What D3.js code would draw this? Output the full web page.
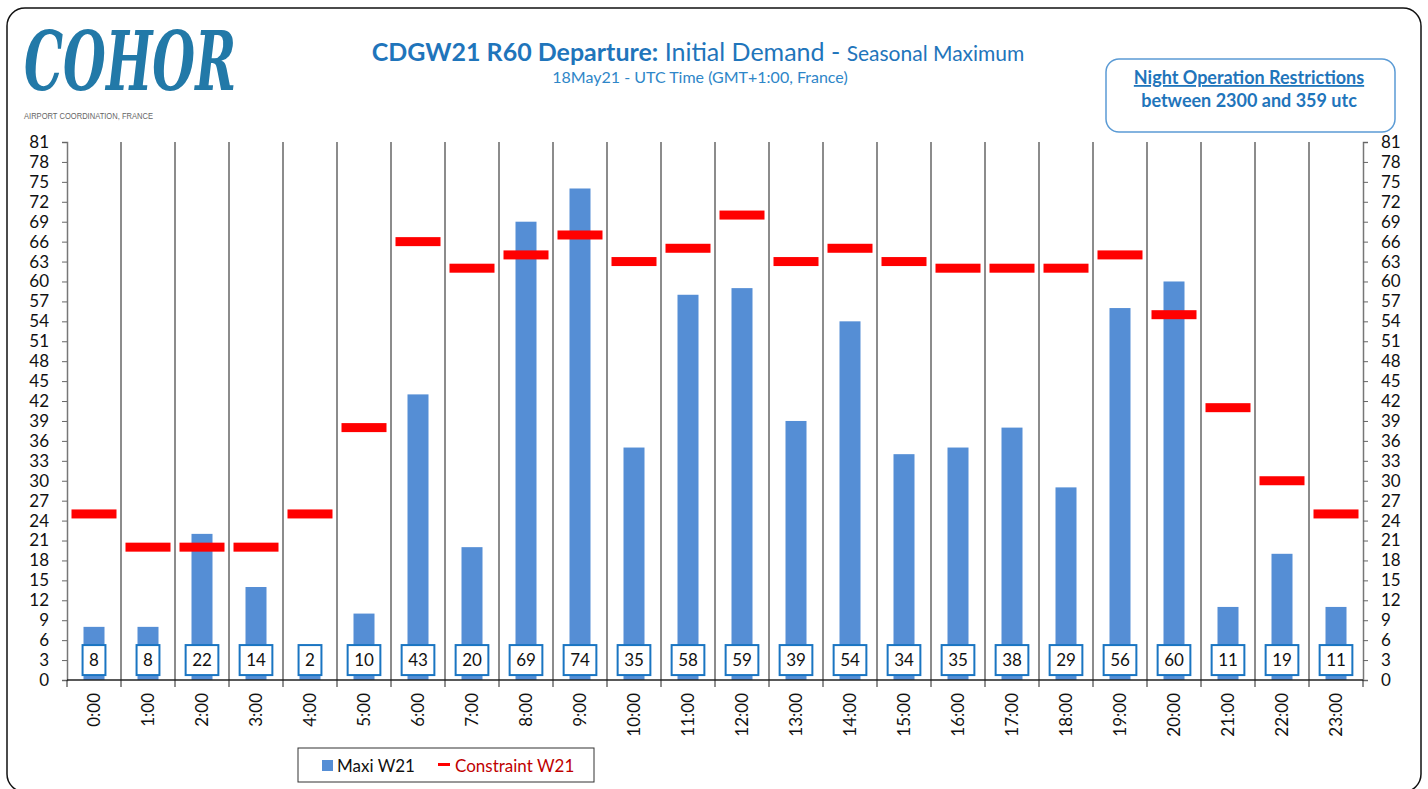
<!DOCTYPE html>
<html>
<head>
<meta charset="utf-8">
<script src="https://cdn.jsdelivr.net/npm/d3@7"></script>
<style>
  body { margin: 0; background: #fff; }
  svg { display: block; font-family: Lato, 'Open Sans', sans-serif; }
</style>
</head>
<body>
<div id="chart"></div>
<script>
// hourly slots, demand and constraint
const hours = ['0:00', '1:00', '2:00', '3:00', '4:00', '5:00', '6:00', '7:00', '8:00', '9:00', '10:00', '11:00',
  '12:00', '13:00', '14:00', '15:00', '16:00', '17:00', '18:00', '19:00', '20:00', '21:00', '22:00', '23:00']
const maxiW21 = [8, 8, 22, 14, 2, 10, 43, 20, 69, 74, 35, 58, 59, 39, 54, 34, 35, 38, 29, 56, 60, 11, 19, 11]
const constraintW21 = [25, 20, 20, 20, 25, 38, 66, 62, 64, 67, 63, 65, 70, 63, 65, 63, 62, 62, 62, 64, 55, 41, 30, 25]
const yTicks = d3.range(0, 82, 3)

const width = 1428
const height = 789
const blue = '#1f75bb'

const svg = d3.select('#chart').append('svg')
  .attr('width', width)
  .attr('height', height)

// outer frame
svg.append('rect')
  .attr('x', 7).attr('y', 8)
  .attr('width', 1414).attr('height', 784)
  .attr('rx', 18)
  .attr('fill', 'none')
  .attr('stroke', '#111')
  .attr('stroke-width', 1.5)

// logo
svg.append('text')
  .attr('x', 24).attr('y', 90)
  .attr('font-family', 'DejaVu Serif')
  .attr('font-style', 'italic')
  .attr('font-weight', 'bold')
  .attr('font-size', 82)
  .attr('textLength', 212)
  .attr('lengthAdjust', 'spacingAndGlyphs')
  .attr('fill', '#2279a8')
  .text('COHOR')
svg.append('text')
  .attr('x', 24).attr('y', 119)
  .attr('font-family', 'Liberation Sans Narrow, Liberation Sans')
  .attr('font-size', 9)
  .attr('textLength', 129)
  .attr('lengthAdjust', 'spacingAndGlyphs')
  .attr('fill', '#666')
  .text('AIRPORT COORDINATION, FRANCE')

// title
let title = svg.append('text')
  .attr('x', 698).attr('y', 61)
  .attr('text-anchor', 'middle')
  .attr('fill', blue)
  .attr('font-size', 25)
title.append('tspan').attr('font-weight', 'bold').text('CDGW21 R60 Departure:')
title.append('tspan').text(' Initial Demand - ')
title.append('tspan').attr('font-size', 21).text(' Seasonal Maximum')

svg.append('text')
  .attr('x', 700).attr('y', 83)
  .attr('text-anchor', 'middle')
  .attr('fill', '#2e86c8')
  .attr('font-size', 16)
  .text('18May21 - UTC Time (GMT+1:00, France)')

// night restrictions box
svg.append('rect')
  .attr('x', 1106).attr('y', 59)
  .attr('width', 289).attr('height', 73)
  .attr('rx', 13)
  .attr('fill', '#fff')
  .attr('stroke', '#5b9bd5')
  .attr('stroke-width', 1.5)
svg.append('text')
  .attr('x', 1249).attr('y', 84)
  .attr('text-anchor', 'middle')
  .attr('fill', blue)
  .attr('font-size', 18)
  .attr('font-weight', 'bold')
  .attr('text-decoration', 'underline')
  .text('Night Operation Restrictions')
svg.append('text')
  .attr('x', 1249).attr('y', 107)
  .attr('text-anchor', 'middle')
  .attr('fill', blue)
  .attr('font-size', 18)
  .attr('font-weight', 'bold')
  .text('between 2300 and 359 utc')

// scales
const x = d3.scaleBand().domain(hours).range([67, 1363]).padding(0)
const y = d3.scaleLinear().domain([0, 81]).range([680, 142])
const bw = x.bandwidth()

// vertical separators
svg.append('g').selectAll('line')
  .data(hours.slice(1))
  .enter().append('line')
  .attr('x1', d => x(d)).attr('x2', d => x(d))
  .attr('y1', y(81)).attr('y2', y(0))
  .attr('stroke', '#8c8c8c')
  .attr('stroke-width', 2)

// axes
let leftAxis = svg.append('g')
  .attr('transform', 'translate(67,0)')
  .call(d3.axisLeft(y).tickValues(yTicks).tickSize(5).tickPadding(13))
let rightAxis = svg.append('g')
  .attr('transform', 'translate(1363,0)')
  .call(d3.axisRight(y).tickValues(yTicks).tickSize(5).tickPadding(13))
;[leftAxis, rightAxis].forEach(a => {
  a.select('.domain').attr('stroke', '#777').attr('stroke-width', 1.5)
  a.selectAll('.tick line').attr('stroke', '#666')
  a.selectAll('.tick text').attr('font-size', 17).attr('fill', '#111').attr('font-family', 'Lato')
})

// bars
svg.append('g').selectAll('rect')
  .data(maxiW21)
  .enter().append('rect')
  .attr('x', (d, i) => x(hours[i]) + bw / 2 - 10.5)
  .attr('y', d => y(d))
  .attr('width', 21)
  .attr('height', d => y(0) - y(d))
  .attr('fill', '#558ed5')

// constraint dashes
svg.append('g').selectAll('rect')
  .data(constraintW21)
  .enter().append('rect')
  .attr('x', (d, i) => x(hours[i]) + bw / 2 - 22.5)
  .attr('y', d => y(d) - 4.5)
  .attr('width', 45)
  .attr('height', 9)
  .attr('fill', '#ff0000')

// bottom axis
let bottomAxis = svg.append('g')
  .attr('transform', 'translate(0,680)')
bottomAxis.append('line')
  .attr('x1', 67).attr('x2', 1363)
  .attr('stroke', '#222').attr('stroke-width', 1.5)
bottomAxis.selectAll('line.tk')
  .data(hours.concat(['end']))
  .enter().append('line')
  .attr('class', 'tk')
  .attr('x1', (d, i) => 67 + i * bw).attr('x2', (d, i) => 67 + i * bw)
  .attr('y1', 0).attr('y2', 7)
  .attr('stroke', '#222')
bottomAxis.selectAll('text')
  .data(hours)
  .enter().append('text')
  .attr('transform', d => 'translate(' + (x(d) + bw / 2 + 6) + ',13) rotate(-90)')
  .attr('text-anchor', 'end')
  .attr('font-size', 17)
  .attr('fill', '#111')
  .text(d => d)

// value labels
let labels = svg.append('g').selectAll('g')
  .data(maxiW21)
  .enter().append('g')
  .attr('transform', (d, i) => 'translate(' + (x(hours[i]) + bw / 2) + ',' + y(3) + ')')
let labelRect = labels.append('rect')
  .attr('fill', '#fff')
  .attr('stroke', '#1a75c2')
  .attr('stroke-width', 2)
let labelText = labels.append('text')
  .attr('text-anchor', 'middle')
  .attr('dy', '0.36em')
  .attr('font-size', 17)
  .attr('fill', '#111')
  .text(d => d)
labelText.each(function (d, i) {
  let w = this.getComputedTextLength() + 13
  d3.select(labelRect.nodes()[i])
    .attr('x', -w / 2).attr('y', -15)
    .attr('width', w).attr('height', 30)
})

// legend
let legend = svg.append('g')
legend.append('rect')
  .attr('x', 298).attr('y', 748)
  .attr('width', 296).attr('height', 34)
  .attr('fill', '#fff')
  .attr('stroke', '#333')
  .attr('stroke-width', 1)
legend.append('rect')
  .attr('x', 322).attr('y', 760)
  .attr('width', 11).attr('height', 11)
  .attr('fill', '#558ed5')
legend.append('text')
  .attr('x', 337).attr('y', 772)
  .attr('font-size', 17)
  .attr('fill', '#111')
  .text('Maxi W21')
legend.append('rect')
  .attr('x', 438).attr('y', 763)
  .attr('width', 12).attr('height', 3)
  .attr('fill', '#ff0000')
legend.append('text')
  .attr('x', 455).attr('y', 772)
  .attr('font-size', 17)
  .attr('fill', '#c00000')
  .text('Constraint W21')
</script>
</body>
</html>
